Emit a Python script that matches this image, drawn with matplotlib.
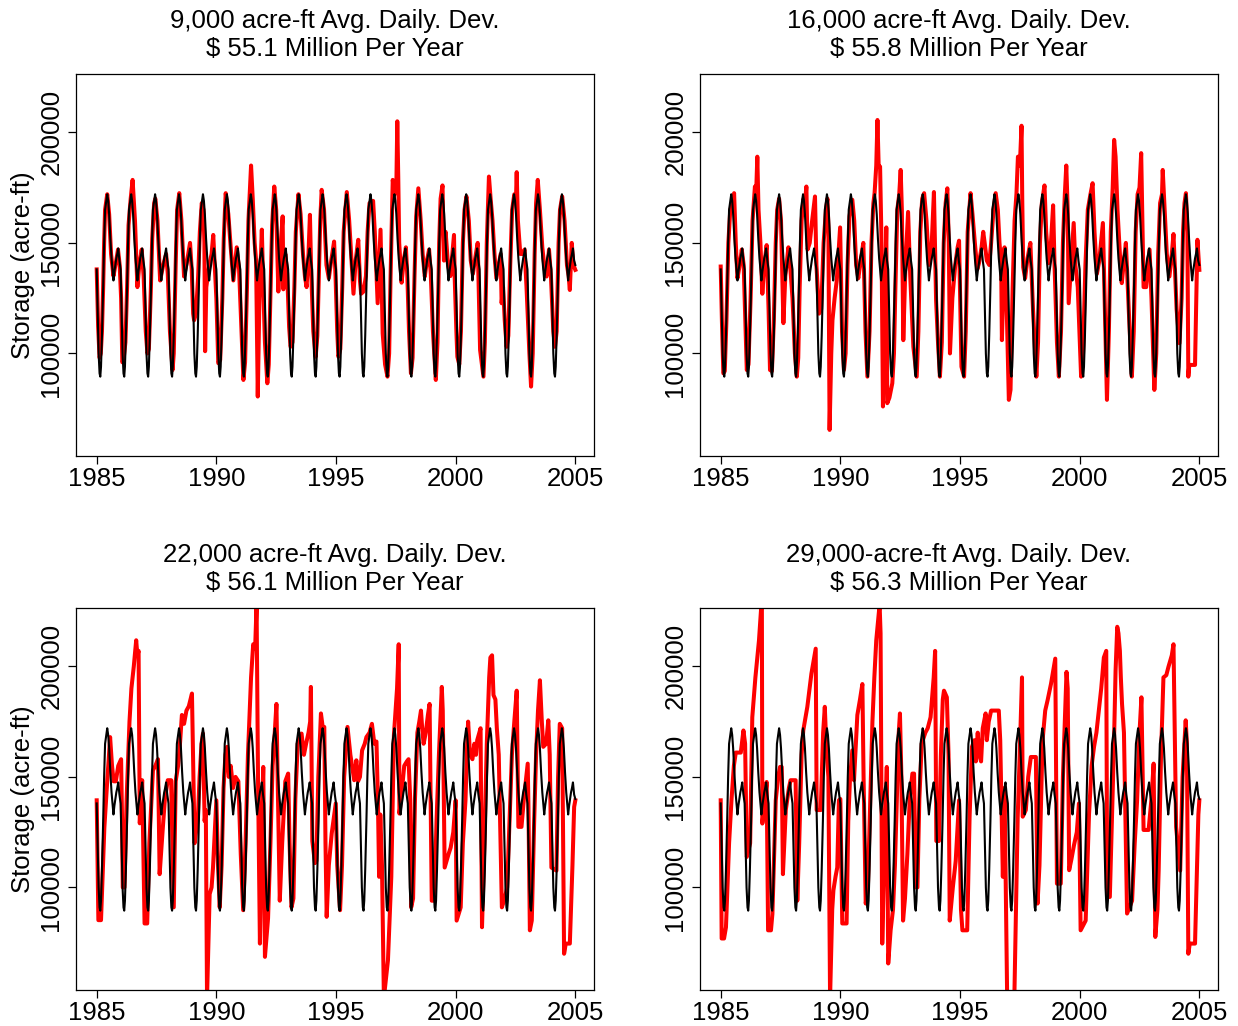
import numpy as np
import matplotlib
matplotlib.use('Agg')
import matplotlib.pyplot as plt

plt.rcParams['font.family'] = ['Liberation Sans', 'DejaVu Sans']

# target (rule) storage, one year's shape in thousand acre-ft, repeated every year
years = list(range(1985, 2005))
black_frac = [0.00, 0.04, 0.08, 0.12, 0.15, 0.18, 0.22, 0.27, 0.31, 0.35, 0.40, 0.44,
              0.48, 0.52, 0.57, 0.62, 0.66, 0.70, 0.74, 0.78, 0.82, 0.86, 0.90, 0.95]
black_vals = [138, 118, 100, 91, 89.5, 94, 108, 130, 150, 165, 169, 172,
              169, 163, 152, 143, 138, 133, 137, 140, 143, 145, 147.5, 142]
black_end = 140

titles = ["9,000 acre-ft Avg. Daily. Dev.\n\\$ 55.1 Million Per Year",
          "16,000 acre-ft Avg. Daily. Dev.\n\\$ 55.8 Million Per Year",
          "22,000 acre-ft Avg. Daily. Dev.\n\\$ 56.1 Million Per Year",
          "29,000-acre-ft Avg. Daily. Dev.\n\\$ 56.3 Million Per Year"]

# simulated storage: (years since 1985, thousand acre-ft)
red_9000 = [
    (0.00,138),(0.06,112),(0.12,98),(0.17,100),(0.22,110),(0.27,130),(0.31,150),(0.35,165),(0.44,172),(0.52,163),(0.60,145),(0.70,135),(0.80,141),(0.89,147),(0.96,140),
    (1.02,125),(1.07,96),(1.12,97),(1.20,105),(1.27,130),(1.33,158),(1.42,170),(1.50,178.5),(1.60,160),(1.70,130),(1.78,140),(1.88,147),(1.96,135),
    (2.05,110),(2.12,100),(2.18,102),(2.26,128),(2.32,152),(2.40,168),(2.45,170),(2.54,160),(2.65,133),(2.78,140),(2.90,145),(2.97,136),
    (3.06,110),(3.17,92.5),(3.22,100),(3.30,140),(3.36,165),(3.45,172.5),(3.54,160),(3.65,134.8),(3.78,142),(3.90,150),(3.97,138),
    (4.03,118),(4.07,115),(4.15,118),(4.24,135),(4.31,155),(4.39,168),(4.46,165),(4.50,150),(4.53,101),(4.58,130),(4.70,140),(4.80,145),(4.87,153.6),(4.93,140),(5.00,125),
    (5.08,95.6),(5.16,97),(5.25,125),(5.31,152),(5.39,172.5),(5.50,163),(5.60,148),(5.71,133),(5.85,148),(5.95,138),
    (6.05,110),(6.13,88),(6.20,96),(6.28,130),(6.34,160),(6.45,185),(6.52,170),(6.60,150),(6.66,142),(6.73,80.5),(6.80,125),(6.90,156),(6.96,130),(7.03,105),
    (7.13,86.5),(7.19,95),(7.27,130),(7.33,158),(7.42,175.5),(7.50,165),(7.59,128),(7.66,145),(7.77,162),(7.80,129),(7.88,145),(7.96,136),
    (8.04,112),(8.10,103),(8.18,105),(8.26,130),(8.32,155),(8.43,172),(8.52,163),(8.62,145),(8.70,135),(8.77,130),(8.85,145),(8.91,162.7),(8.96,138),
    (9.05,110),(9.15,98.5),(9.22,108),(9.28,135),(9.34,160),(9.40,174),(9.50,165),(9.60,140),(9.70,134),(9.80,142),(9.92,150.6),(9.98,135),
    (10.05,110),(10.10,98.5),(10.18,102),(10.26,130),(10.32,155),(10.45,173),(10.55,160),(10.65,142),(10.73,127),(10.82,142),(10.93,151.4),(11.00,133),
    (11.05,127),(11.15,128),(11.25,135),(11.32,155),(11.40,168),(11.55,169),(11.62,155),(11.74,122.7),(11.86,156),(11.95,109),(12.05,95),
    (12.15,89.5),(12.22,100),(12.28,135),(12.37,178.5),(12.45,172),(12.52,175),(12.56,205),(12.60,180),(12.64,150),(12.74,132),(12.83,142),(12.92,148),(12.98,135),
    (13.05,110),(13.13,91),(13.20,98),(13.28,135),(13.35,162),(13.44,174.7),(13.54,160),(13.62,145),(13.71,134.8),(13.80,142),(13.89,147),(13.96,136),
    (14.05,110),(14.17,88),(14.24,105),(14.31,150),(14.37,170),(14.45,176),(14.51,142),(14.58,155),(14.68,140),(14.78,135),(14.93,153.6),(14.96,134),(15.03,110),(15.07,98.5),
    (15.15,95),(15.22,110),(15.30,150),(15.37,165),(15.45,171),(15.55,160),(15.63,142),(15.72,136),(15.80,142),(15.92,150),(16.02,101.6),(16.16,89.5),
    (16.22,105),(16.30,150),(16.39,180),(16.46,170),(16.54,160),(16.62,145),(16.70,134),(16.80,140),(16.88,145),(16.92,122.7),(16.98,130),(17.05,115),(17.13,103),
    (17.20,108),(17.28,140),(17.36,165),(17.45,172),(17.52,170),(17.55,182),(17.60,160),(17.70,145),(17.78,145),(17.88,147),(17.96,130),(18.08,100),(18.15,85),
    (18.22,100),(18.30,145),(18.36,168),(18.43,178.5),(18.52,165),(18.62,148),(18.72,138),(18.80,134.8),(18.90,147),(18.98,135),(19.08,110),(19.15,103),
    (19.22,110),(19.30,150),(19.36,165),(19.45,171),(19.55,160),(19.65,140),(19.72,135),(19.77,128.7),(19.85,150),(19.92,140),(20.00,137.8),
]

red_16000 = [
    (0.00,139.3),(0.05,115),(0.11,91),(0.17,92),(0.24,115),(0.32,150),(0.40,165),(0.50,168),(0.56,172.5),(0.63,150),(0.70,134),(0.78,139),(0.88,147),(0.96,140),
    (1.04,110),(1.09,92.5),(1.16,95),(1.25,125),(1.33,160),(1.43,175.5),(1.48,172),(1.53,189),(1.58,165),(1.66,150),(1.74,127),(1.82,140),(1.92,149),(2.00,120),(2.06,92.5),
    (2.14,92),(2.22,115),(2.30,150),(2.36,165),(2.44,170),(2.52,160),(2.62,113.7),(2.70,135),(2.83,148),(2.90,140),(3.00,125),(3.10,100),(3.18,89.5),
    (3.24,98),(3.30,130),(3.38,160),(3.46,170),(3.52,168),(3.58,175.5),(3.63,147),(3.72,150),(3.82,160),(3.94,171),(4.00,140),(4.11,118),
    (4.20,120),(4.30,150),(4.40,165),(4.46,170),(4.50,157),(4.55,65.4),(4.62,100),(4.67,115),(4.76,125),(4.85,133),(4.92,145),(4.99,157),(5.07,110),(5.15,92.5),
    (5.22,100),(5.30,140),(5.38,162),(5.50,169.5),(5.58,160),(5.66,140),(5.75,134),(5.85,142),(5.96,150),(6.05,110),(6.13,89.5),
    (6.22,110),(6.30,150),(6.38,168),(6.43,172.5),(6.50,185),(6.55,205.6),(6.60,185),(6.66,184.5),(6.72,150),(6.78,76),(6.85,120),(6.92,157),(6.96,77.5),(7.05,80),(7.17,86.5),
    (7.24,100),(7.30,130),(7.38,165),(7.46,172),(7.52,183),(7.57,165),(7.63,106),(7.72,140),(7.83,164),(7.92,135),(8.05,103),(8.19,89.5),
    (8.26,110),(8.34,155),(8.42,170),(8.50,172.5),(8.60,160),(8.70,140),(8.80,145),(8.91,173),(9.00,124),(9.08,105),(9.16,89.5),
    (9.24,105),(9.32,150),(9.40,168),(9.47,174.7),(9.53,150),(9.58,100),(9.68,125),(9.80,140),(9.90,148),(9.96,151),(10.06,94),(10.17,89.5),
    (10.24,110),(10.32,155),(10.44,172.5),(10.52,163),(10.62,150),(10.72,138),(10.79,140.8),(10.90,148),(10.97,155),(11.03,150),(11.12,142),(11.22,140),(11.30,150),(11.40,165),
    (11.49,172.5),(11.58,165),(11.65,150),(11.72,140.8),(11.75,106),(11.80,125),(11.86,148),(11.92,135),(12.04,79),(12.11,83.5),
    (12.20,130),(12.28,160),(12.36,172.5),(12.42,189),(12.50,185),(12.57,203),(12.60,170),(12.64,139),(12.72,134),(12.82,143),(12.94,150),(13.05,120),(13.19,89.5),
    (13.26,105),(13.34,150),(13.42,168),(13.53,176),(13.60,155),(13.70,140.8),(13.80,150),(13.89,167),(13.95,140),(14.05,105),(14.13,89.5),
    (14.22,110),(14.30,150),(14.38,172),(14.44,185),(14.50,165),(14.54,122.7),(14.61,134.8),(14.75,159),(14.82,140),(14.92,130),(15.06,89.5),
    (15.14,100),(15.24,140),(15.34,165),(15.45,172),(15.54,177),(15.62,155),(15.72,136),(15.82,142),(15.97,159),(16.02,135),(16.14,79),
    (16.22,110),(16.30,155),(16.38,175),(16.44,196.6),(16.50,189),(16.58,165),(16.68,145),(16.76,131.8),(16.85,142),(16.93,150),(17.05,120),(17.18,89.5),
    (17.26,110),(17.34,155),(17.42,172),(17.50,175),(17.57,190.6),(17.62,160),(17.67,130),(17.78,130),(17.86,140),(17.92,147),(18.00,125),(18.12,83.5),
    (18.20,100),(18.28,145),(18.36,168),(18.44,172),(18.47,183),(18.55,165),(18.64,145),(18.75,134.8),(18.85,145),(18.92,154),(19.05,120),(19.17,104.6),
    (19.26,125),(19.32,155),(19.38,168),(19.44,172.5),(19.50,155),(19.54,89.5),(19.58,94.8),(19.82,94.8),(19.92,151.4),(20.00,137.8),
]

red_22000 = [
    (0.00,139.4),(0.07,85.2),(0.18,85.2),(0.32,127),(0.45,150),(0.50,157.5),(0.56,168),(0.64,155),(0.71,148),(0.80,148),(0.90,155),(1.02,158),(1.06,130),(1.09,100),(1.16,100),
    (1.25,140),(1.37,175),(1.45,190),(1.55,200),(1.65,211.8),(1.70,205),(1.75,207),(1.80,129),(1.90,148.5),(2.00,83.7),(2.11,83.7),
    (2.20,120),(2.35,153),(2.45,155),(2.56,158),(2.63,106),(2.75,125),(2.85,140),(2.97,148.5),(3.11,148.5),(3.22,91),
    (3.30,148),(3.40,155),(3.48,165),(3.56,178),(3.65,174),(3.75,180),(3.85,182),(3.98,187.7),(4.09,120),(4.23,131.9),
    (4.30,150),(4.38,165),(4.44,169.6),(4.51,130),(4.56,135),(4.61,50),(4.72,97),(4.80,100),(4.86,109),(5.00,139.4),(5.07,110),(5.14,91),
    (5.22,110),(5.30,145),(5.38,160),(5.45,163.6),(5.52,150),(5.60,155),(5.70,145),(5.80,150),(5.92,148),(6.02,115),(6.12,89.7),
    (6.22,120),(6.32,160),(6.45,195),(6.54,210),(6.62,208),(6.68,228),(6.74,150),(6.82,74.6),(6.90,130),(6.96,154.5),(7.03,68.6),(7.16,86),
    (7.26,120),(7.35,155),(7.44,170),(7.51,183),(7.56,150),(7.65,94),(7.75,120),(7.88,148),(8.00,151.5),(8.06,120),(8.14,91),
    (8.22,95),(8.30,140),(8.40,165),(8.56,169.6),(8.66,160),(8.75,165),(8.85,170),(8.92,175),(8.95,190.7),(9.01,121),(9.12,111),(9.18,112),
    (9.26,150),(9.37,178.7),(9.45,172),(9.51,172.6),(9.56,120),(9.61,86.7),(9.70,110),(9.82,124.4),(9.99,138),(10.05,110),(10.17,89.7),
    (10.25,110),(10.34,150),(10.48,172.6),(10.60,160),(10.76,148.5),(10.85,157.5),(10.92,148),(11.00,150),(11.09,162),
    (11.20,165),(11.27,168),(11.40,170),(11.50,174),(11.60,165),(11.69,166),(11.75,140),(11.80,104.8),(11.85,133),(11.92,110),(12.00,50),(12.17,67),(12.31,104.8),(12.42,169),
    (12.55,190),(12.62,210),(12.65,133.4),(12.72,140),(12.85,155),(12.96,157),(13.03,158),(13.10,140),(13.14,91),(13.22,95),
    (13.30,140),(13.40,170),(13.48,175),(13.55,180),(13.60,172),(13.66,165),(13.75,170),(13.84,178),(13.91,183),(14.00,94),(14.11,94),
    (14.20,130),(14.30,160),(14.36,175),(14.42,190.7),(14.46,180),(14.54,109),(14.62,112),(14.70,115),(14.79,118),(14.90,125),(15.00,139.4),(15.04,85),(15.21,91),
    (15.30,120),(15.41,139.4),(15.48,165),(15.52,175),(15.60,160),(15.70,158),(15.78,165),(15.85,160),(15.90,166.6),(16.04,172),(16.10,82),
    (16.20,120),(16.30,165),(16.40,195),(16.45,204),(16.52,205),(16.58,187),(16.66,185),(16.72,172),(16.80,160),(16.93,91),(17.05,95),
    (17.15,100),(17.25,130),(17.35,160),(17.45,175),(17.55,189),(17.62,127.4),(17.75,127.4),(17.85,140),(17.95,150),(18.01,156),(18.04,137),(18.10,80.6),(18.18,85),
    (18.28,130),(18.36,160),(18.44,180),(18.52,193.7),(18.60,175),(18.66,163.6),(18.78,165),(18.87,175.6),(18.93,160),(19.00,109),(19.21,107.6),
    (19.28,150),(19.35,174),(19.45,172),(19.53,70),(19.60,74.6),(19.77,74.6),(19.88,110),(19.95,136.4),(20.00,139.4),
]

red_29000 = [
    (0.00,139.4),(0.04,76.9),(0.14,76.9),(0.22,82),(0.35,120),(0.45,139.4),(0.55,155),(0.63,161),(0.84,161),(0.95,171),(1.02,165),(1.09,113.8),(1.23,120),
    (1.32,177),(1.45,195),(1.60,211.8),(1.70,228),(1.72,228),(1.74,128.9),(1.85,140),(1.92,147.7),(1.98,80.6),(2.10,80.6),(2.16,88),
    (2.30,139.4),(2.40,150),(2.48,154.5),(2.55,154.5),(2.60,106),(2.72,135),(2.85,145),(2.92,148.5),(3.13,148.5),(3.20,94),
    (3.28,120),(3.38,160),(3.45,171),(3.62,181.7),(3.79,196.7),(3.97,208),(4.01,135),(4.18,135),
    (4.28,170),(4.35,181.7),(4.42,162),(4.50,150),(4.57,50),(4.66,90),(4.71,98.7),(4.80,105),(4.87,109),(4.94,139.4),(5.00,140),(5.08,83.7),(5.26,83.7),
    (5.33,130),(5.40,148.5),(5.50,162),(5.57,148.5),(5.65,165),(5.71,178),(5.82,185),(5.92,192),(5.97,150),(6.06,92.7),
    (6.15,100),(6.25,140),(6.34,175),(6.42,195),(6.50,211.8),(6.64,228),(6.68,215),(6.75,74.6),(6.85,120),(6.94,154.5),(7.00,65.6),(7.10,80.6),(7.20,90),
    (7.28,110),(7.36,140),(7.44,170),(7.49,178.7),(7.55,150),(7.62,85),(7.70,95),(7.80,115),(7.90,140),(8.01,151.5),(8.08,151.5),(8.15,100),(8.22,100),
    (8.30,140),(8.40,165),(8.55,170),(8.65,172),(8.77,177),(8.90,195),(8.96,207),(9.01,121),(9.12,121),
    (9.20,160),(9.28,185),(9.33,189),(9.45,186),(9.52,160),(9.57,85),(9.70,100),(9.82,112),(9.96,139.4),(10.04,90),(10.10,80.6),(10.30,80.6),
    (10.40,131.9),(10.50,163.6),(10.60,166.6),(10.66,157),(10.74,170),(10.80,160),(10.88,157),(10.95,172),(11.07,178.7),(11.12,166.6),(11.20,175),(11.30,180),(11.62,180),(11.68,166.6),
    (11.79,104.8),(11.86,145),(11.97,50),(12.27,50),(12.41,131.9),(12.48,155),(12.59,195),(12.62,132),(12.75,135),
    (12.85,150),(12.96,159),(13.17,159),(13.24,92.7),(13.32,110),
    (13.45,166.6),(13.56,180),(13.66,184.7),(13.80,192),(13.98,203.5),(14.05,101.7),(14.21,101.7),
    (14.30,150),(14.38,175),(14.45,197.5),(14.50,190),(14.56,107.8),(14.66,113),(14.76,119),(14.88,125),(14.97,138),(15.04,80.6),(15.25,85),
    (15.39,133),(15.50,155),(15.60,163.6),(15.70,170),(15.80,180),(15.90,190),(16.01,204),(16.11,207),(16.15,95.7),(16.26,95.7),
    (16.43,163.6),(16.50,198),(16.57,217.9),(16.62,215),(16.68,207),(16.72,195),(16.77,183),(16.85,170),(16.98,88.2),(17.19,94),
    (17.30,120),(17.40,139.4),(17.50,170),(17.58,186),(17.67,126),(17.88,126),(18.00,140),(18.09,156),(18.16,77.6),(18.25,90),
    (18.30,107.6),(18.40,160),(18.50,195),(18.62,196),(18.71,199.8),(18.85,205),(18.92,210),(19.03,127.4),(19.20,107.6),
    (19.30,150),(19.43,175.6),(19.48,165),(19.54,70),(19.60,74.6),(19.82,74.6),(19.96,133),(20.00,139.4),
]

red_series = [red_9000, red_16000, red_22000, red_29000]
yticks = [100000, 150000, 200000]
xticks = [1985, 1990, 1995, 2000, 2005]

# rule curve as one long series
black_t = [y + f for y in years for f in black_frac] + [2005.0]
black_v = [v * 1000 for y in years for v in black_vals] + [black_end * 1000]

fig = plt.figure(figsize=(12.38, 10.26), dpi=100)
boxes = [(76, 74, 594, 456), (700, 74, 1218, 456),
         (76, 608, 594, 990), (700, 608, 1218, 990)]
W, H = 1238.0, 1026.0
fs = 18.5

for i, (l, t, r, b) in enumerate(boxes):
    ax = fig.add_axes([l / W, 1 - b / H, (r - l) / W, (b - t) / H])
    rt = [1985 + p[0] for p in red_series[i]]
    rv = [p[1] * 1000 for p in red_series[i]]
    ax.plot(rt, rv, color='red', lw=2.9, solid_joinstyle='round', zorder=2)
    ax.plot(black_t, black_v, color='black', lw=1.5, zorder=3)
    ax.set_xlim(1984.135, 2005.78)
    ax.set_ylim(53600, 226400)
    ax.set_xticks(xticks)
    ax.set_xticklabels([str(x) for x in xticks], fontsize=fs)
    ax.set_yticks(yticks)
    ax.set_yticklabels([str(y) for y in yticks], fontsize=fs, rotation=90, va='center')
    ax.tick_params(direction='out', length=6, width=0.9, pad=2)
    ax.tick_params(axis='y', pad=3)
    for s in ax.spines.values():
        s.set_linewidth(0.9)
    ax.text(0.5, 1.035, titles[i], transform=ax.transAxes, ha='center', va='bottom',
            fontsize=fs, linespacing=1.2)
    if i % 2 == 0:
        ax.set_ylabel('Storage (acre-ft)', fontsize=fs)
        ax.yaxis.set_label_coords(-0.08, 0.5)

fig.savefig('out.png', dpi=100)
